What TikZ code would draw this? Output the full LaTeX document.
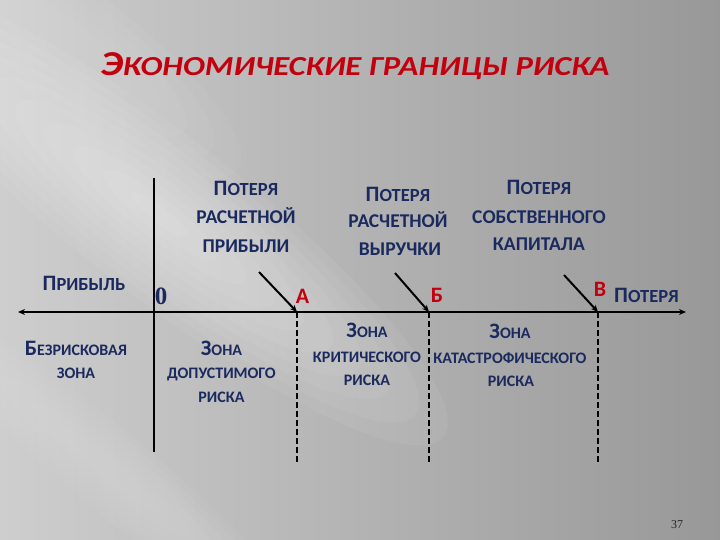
\documentclass[tikz,border=0pt]{standalone}
\usepackage{fontspec}
\setmainfont{Carlito}
\newfontfamily\serifnum{Liberation Serif}
\usetikzlibrary{arrows.meta}
\definecolor{navy}{HTML}{1B2A5E}
\definecolor{tred}{HTML}{C2000E}
\definecolor{bgl}{HTML}{CECECE}
\definecolor{bgr}{HTML}{989898}
\newcommand\Lg[1]{{\fontsize{22}{22}\selectfont #1}}
\newcommand\Sm[1]{{\fontsize{16}{16}\selectfont #1}}
\newcommand\Sp[1]{{\fontsize{18.5}{18.5}\selectfont #1}}
\newcommand\Md[1]{{\fontsize{19.5}{19.5}\selectfont #1}}
\begin{document}
\begin{tikzpicture}[x=1pt,y=-1pt,
  lbl/.style={text=navy, font=\bfseries, inner sep=0pt, anchor=base},
  redlbl/.style={text=tred, font=\bfseries\fontsize{22}{22}\selectfont, inner sep=0pt, anchor=base},
  axisline/.style={line width=2pt, black},
  zoneline/.style={line width=2pt, black, dash pattern=on 6pt off 3pt},
  pointer/.style={line width=2pt, black, -{Stealth[length=7pt,width=6pt]}},
  glow/.style={white, opacity=0.035},
  glowstrong/.style={white, opacity=0.055}]
\useasboundingbox (0,0) rectangle (720,540);
% background
\shade[left color=bgl, right color=bgr] (0,0) rectangle (720,540);
\begin{scope}
\clip (0,0) rectangle (720,540);
\foreach \s in {1,0.9,0.8,0.7,0.6,0.5,0.4,0.3,0.2,0.1}{
  \fill[glowstrong, rotate around={-38:(160,215)}] (160,215) ellipse [x radius=\s*360, y radius=\s*80];}
\foreach \s in {1,0.85,0.7,0.55,0.4,0.25}{
  \fill[glow, rotate around={-40:(110,470)}] (110,470) ellipse [x radius=\s*260, y radius=\s*40];}
\foreach \s in {1,0.85,0.7,0.55,0.4}{
  \fill[glow, rotate around={-36:(60,40)}] (60,40) ellipse [x radius=\s*220, y radius=\s*60];}
\end{scope}
% title
\node[anchor=base, inner sep=0pt, text=tred, font=\bfseries\itshape] (title) at (355,76)
  {\scalebox{1.19}[1]{{\fontsize{35}{35}\selectfont Э}{\fontsize{27.5}{27.5}\selectfont КОНОМИЧЕСКИЕ ГРАНИЦЫ РИСКА}}};
% axes
\coordinate (L) at (18,312);
\coordinate (R) at (686,312);
\coordinate (vt) at (154,178);
\coordinate (vb) at (154,452);
\coordinate (pA) at (297,312);
\coordinate (pB) at (429,312);
\coordinate (pV) at (598,312);
\coordinate (dA) at (297,462);
\coordinate (dB) at (429,462);
\coordinate (dV) at (598,462);
\coordinate (sA) at (259,272);
\coordinate (sB) at (395,273);
\coordinate (sV) at (564,275);
\draw[axisline, {Stealth[length=7pt,width=6pt]}-{Stealth[length=7pt,width=6pt]}] (L) -- (R);
\draw[axisline] (vt) -- (vb);
\draw[zoneline] (pA) -- (dA);
\draw[zoneline] (pB) -- (dB);
\draw[zoneline] (pV) -- (dV);
\draw[pointer] (sA) -- (pA);
\draw[pointer] (sB) -- (pB);
\draw[pointer] (sV) -- (pV);
% point labels
\node[redlbl] (lA) at (302.5,303) {А};
\node[redlbl] (lB) at (437,302) {Б};
\node[redlbl] (lV) at (600,296) {В};
\node[anchor=base, inner sep=0pt, text=navy, font=\serifnum\bfseries\fontsize{25}{25}\selectfont] (zero) at (161,304) {0};
% upper labels
\node[lbl] (u1a) at (246,196) {\Lg{П}\Sp{ОТЕРЯ}};
\node[lbl] (u1b) at (246,224) {\Md{РАСЧЕТНОЙ}};
\node[lbl] (u1c) at (246,252) {\Md{ПРИБЫЛИ}};
\node[lbl] (u2a) at (398,202) {\Lg{П}\Sp{ОТЕРЯ}};
\node[lbl] (u2b) at (398,228) {\Md{РАСЧЕТНОЙ}};
\node[lbl] (u2c) at (400,255) {\Md{ВЫРУЧКИ}};
\node[lbl] (u3a) at (539,195) {\Lg{П}\Sp{ОТЕРЯ}};
\node[lbl] (u3b) at (539,223) {\Md{СОБСТВЕННОГО}};
\node[lbl] (u3c) at (539,251) {\Md{КАПИТАЛА}};
% axis end labels
\node[lbl] (prib) at (84,290) {\Lg{П}\Sp{РИБЫЛЬ}};
\node[lbl] (pot) at (646.5,302) {\Lg{П}\Sp{ОТЕРЯ}};
% zone labels
\node[lbl] (z0a) at (76,355) {\Lg{Б}\Sm{ЕЗРИСКОВАЯ}};
\node[lbl] (z0b) at (76,378) {\Sm{ЗОНА}};
\node[lbl] (z1a) at (221.5,355) {\Lg{З}\Sm{ОНА}};
\node[lbl] (z1b) at (221.5,378) {\Sm{ДОПУСТИМОГО}};
\node[lbl] (z1c) at (221.5,402) {\Sm{РИСКА}};
\node[lbl] (z2a) at (367,337) {\Lg{З}\Sm{ОНА}};
\node[lbl] (z2b) at (367,362) {\Sm{КРИТИЧЕСКОГО}};
\node[lbl] (z2c) at (367,385) {\Sm{РИСКА}};
\node[lbl] (z3a) at (510,338) {\Lg{З}\Sm{ОНА}};
\node[lbl] (z3b) at (510,363) {\Sm{КАТАСТРОФИЧЕСКОГО}};
\node[lbl] (z3c) at (511,386) {\Sm{РИСКА}};
% page number
\node[anchor=base, inner sep=0pt, text=black!85, font=\serifnum\fontsize{12}{12}\selectfont] (pg) at (677,528) {37};
\end{tikzpicture}
\end{document}
